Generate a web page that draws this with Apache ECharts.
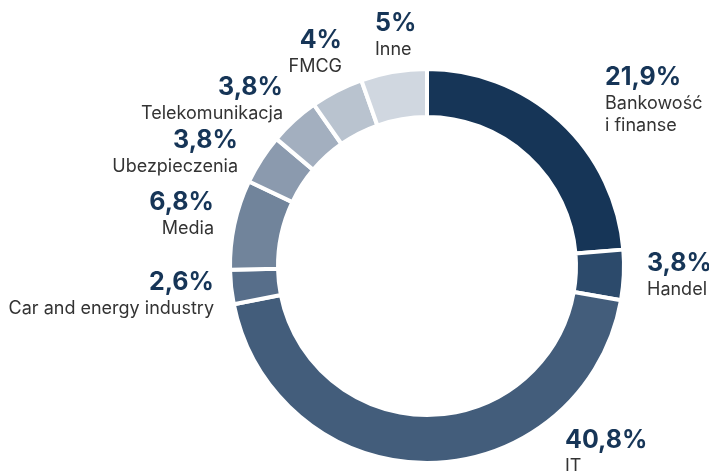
<!DOCTYPE html>
<html>
<head>
<meta charset="utf-8">
<script src="https://cdn.jsdelivr.net/npm/echarts@6/dist/echarts.min.js"></script>
<style>
  html, body { margin: 0; padding: 0; background: #fff; }
  #chart { width: 709px; height: 471px; }
</style>
</head>
<body>
<div id="chart"></div>
<script>
// dane
var categories = ['Bankowość\ni finanse', 'Handel', 'IT', 'Car and energy industry', 'Media',
  'Ubezpieczenia', 'Telekomunikacja', 'FMCG', 'Inne'];
var values = [21.9, 3.8, 40.8, 2.6, 6.8, 3.8, 3.8, 4, 5];
var valueLabels = ['21,9%', '3,8%', '40,8%', '2,6%', '6,8%', '3,8%', '3,8%', '4%', '5%'];
var colors = ['#163557', '#2c4a6b', '#435d7b', '#576e8a', '#71849b', '#8b9aae', '#a3afbf', '#b9c3cf', '#d0d7e0'];

// pozycje etykiet (x, y, align)
var labelPos = [
  [605, 61, 'left'], [647, 247, 'left'], [565, 424, 'left'], [214, 266, 'right'], [214, 186, 'right'],
  [238, 124, 'right'], [283, 71, 'right'], [342, 24, 'right'], [375, 7, 'left']
];

var chart = echarts.init(document.getElementById('chart'));

var option = {
  animation: false,
  series: [{
    type: 'pie',
    center: [427, 266],
    radius: [149, 197],
    startAngle: 90,
    clockwise: true,
    data: categories.map(function (c, i) {
      return { name: c, value: values[i], itemStyle: { color: colors[i] } };
    }),
    itemStyle: { borderColor: '#fff', borderWidth: 4 },
    label: {
      show: true,
      position: 'outside',
      overflow: 'none',
      formatter: function (p) {
        return '{p|' + valueLabels[p.dataIndex] + '}\n' +
          p.name.split('\n').map(function (s) { return '{n|' + s + '}'; }).join('\n');
      },
      rich: {
        p: { fontFamily: 'Inter', fontWeight: 'bold', fontSize: 25, color: '#163557', lineHeight: 32 },
        n: { fontFamily: 'Inter', fontSize: 18, color: '#333333', lineHeight: 22 }
      }
    },
    labelLine: { show: false },
    labelLayout: function (params) {
      var lp = labelPos[params.dataIndex];
      return { x: lp[0], y: lp[1], align: lp[2], verticalAlign: 'top', width: 300 };
    },
    emphasis: { disabled: true }
  }]
};

chart.setOption(option);
</script>
</body>
</html>
